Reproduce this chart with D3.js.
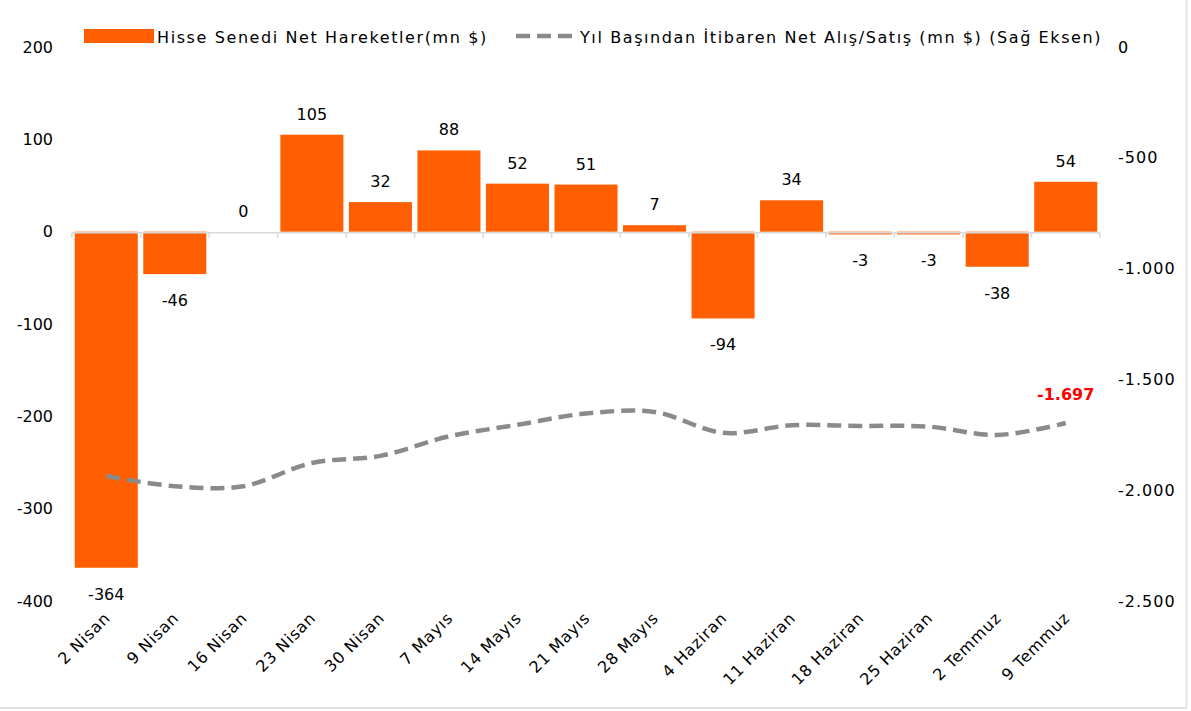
<!DOCTYPE html>
<html>
<head>
<meta charset="utf-8">
<script src="https://cdn.jsdelivr.net/npm/d3@7"></script>
<style>
  body { margin: 0; background: #fff; }
  text { font-family: "DejaVu Sans", sans-serif; fill: #000; }
</style>
</head>
<body>
<div id="chart"></div>
<script>
// weekly dates
const categories = ["2 Nisan", "9 Nisan", "16 Nisan", "23 Nisan", "30 Nisan", "7 Mayıs", "14 Mayıs", "21 Mayıs",
    "28 Mayıs", "4 Haziran", "11 Haziran", "18 Haziran", "25 Haziran", "2 Temmuz", "9 Temmuz"];
// bars (left axis)
const netFlows = [-364, -46, 0, 105, 32, 88, 52, 51, 7, -94, 34, -3, -3, -38, 54];
// dashed line (right axis)
const ytdFlows = [-1936, -1982, -1982, -1877, -1845, -1757, -1705, -1654, -1647, -1741, -1707, -1710, -1713, -1751, -1697];
const leftTicks = [200, 100, 0, -100, -200, -300, -400];
const rightTicks = [0, -500, -1000, -1500, -2000, -2500];
const legendLabels = ["Hisse Senedi Net Hareketler(mn $)", "Yıl Başından İtibaren Net Alış/Satış (mn $) (Sağ Eksen)"];

(function () {
    const width = 1191, height = 711;
    const orange = "#ff5f00", gray = "#8a8a8a";

    const svg = d3.select("#chart")
        .append("svg")
        .attr("width", width)
        .attr("height", height);

    // frame edges
    svg.append("line").attr("x1", 1186.5).attr("x2", 1186.5).attr("y1", 0).attr("y2", 708)
        .attr("stroke", "#e3e3e3").attr("stroke-width", 2);
    svg.append("line").attr("x1", 0).attr("x2", 1187).attr("y1", 708).attr("y2", 708)
        .attr("stroke", "#e3e3e3").attr("stroke-width", 2);

    const x = d3.scaleBand()
        .domain(categories)
        .range([72, 1100])
        .paddingInner(0.08)
        .paddingOuter(0.04);

    const yL = d3.scaleLinear().domain([-400, 200]).range([601, 47]);
    const yR = d3.scaleLinear().domain([-2500, 0]).range([601, 47]);

    const tr = d3.formatLocale({ decimal: ",", thousands: ".", grouping: [3], currency: ["", ""], minus: "-" });
    const fmt = tr.format(",d");

    // left axis (labels only)
    svg.append("g")
        .attr("transform", "translate(62,0)")
        .call(d3.axisLeft(yL).tickValues(leftTicks).tickSize(0).tickPadding(9).tickFormat(fmt))
        .call(g => g.select(".domain").remove())
        .selectAll("text").attr("font-size", "16px").attr("font-family", "DejaVu Sans");

    // right axis
    svg.append("g")
        .attr("transform", "translate(1110,0)")
        .call(d3.axisRight(yR).tickValues(rightTicks).tickSize(0).tickPadding(8).tickFormat(fmt))
        .call(g => g.select(".domain").remove())
        .selectAll("text").attr("font-size", "16px").attr("font-family", "DejaVu Sans")
        .attr("letter-spacing", "1px");

    // bars
    svg.append("g")
        .selectAll("rect")
        .data(netFlows)
        .join("rect")
        .attr("x", (d, i) => x(categories[i]))
        .attr("y", d => yL(Math.max(0, d)))
        .attr("width", x.bandwidth())
        .attr("height", d => Math.abs(yL(d) - yL(0)))
        .attr("fill", orange);

    // zero line with category ticks
    const y0 = yL(0) + 1;
    svg.append("line")
        .attr("x1", x.range()[0]).attr("x2", x.range()[1])
        .attr("y1", y0).attr("y2", y0)
        .attr("stroke", "#d9d9d9").attr("stroke-width", 1.5);
    svg.append("g")
        .selectAll("line")
        .data(d3.range(categories.length + 1))
        .join("line")
        .attr("x1", i => x.range()[0] + i * x.step())
        .attr("x2", i => x.range()[0] + i * x.step())
        .attr("y1", y0).attr("y2", y0 + 5)
        .attr("stroke", "#d9d9d9").attr("stroke-width", 1.5);

    // bar labels
    svg.append("g")
        .selectAll("text")
        .data(netFlows)
        .join("text")
        .attr("x", (d, i) => x(categories[i]) + x.bandwidth() / 2)
        .attr("y", d => d >= 0 ? yL(d) - 15 : yL(d) + 32)
        .attr("text-anchor", "middle")
        .attr("font-size", "16px")
        .text(d => d);

    // cumulative line
    const line = d3.line()
        .x((d, i) => x(categories[i]) + x.bandwidth() / 2)
        .y(d => yR(d))
        .curve(d3.curveCatmullRom.alpha(0.5));
    svg.append("path")
        .datum(ytdFlows)
        .attr("d", line)
        .attr("fill", "none")
        .attr("stroke", gray)
        .attr("stroke-width", 4.5)
        .attr("stroke-dasharray", "14,7");

    // last value label
    const last = ytdFlows.length - 1;
    svg.append("text")
        .attr("x", x(categories[last]) + x.bandwidth() / 2)
        .attr("y", yR(ytdFlows[last]) - 23)
        .attr("text-anchor", "middle")
        .attr("font-size", "16px")
        .attr("font-weight", "bold")
        .style("fill", "#ff0000")
        .text(fmt(ytdFlows[last]));

    // x labels, rotated
    svg.append("g")
        .selectAll("text")
        .data(categories)
        .join("text")
        .attr("transform", d => `translate(${x(d) + x.bandwidth() / 2 + 1},${615}) rotate(-45)`)
        .attr("text-anchor", "end")
        .attr("dy", "0.35em")
        .attr("font-size", "16px")
        .attr("letter-spacing", "0.8px")
        .text(d => d);

    // legend
    svg.append("rect").attr("x", 84).attr("y", 29).attr("width", 70).attr("height", 14).attr("fill", orange);
    svg.append("text").attr("x", 157).attr("y", 37).attr("dy", "0.35em").attr("font-size", "16px")
        .attr("letter-spacing", "1.6px").text(legendLabels[0]);
    svg.append("line").attr("x1", 516).attr("x2", 576).attr("y1", 36).attr("y2", 36)
        .attr("stroke", gray).attr("stroke-width", 4.5).attr("stroke-dasharray", "14,7");
    svg.append("text").attr("x", 580).attr("y", 37).attr("dy", "0.35em").attr("font-size", "16px")
        .attr("letter-spacing", "1.6px").text(legendLabels[1]);
})()
</script>
</body>
</html>
